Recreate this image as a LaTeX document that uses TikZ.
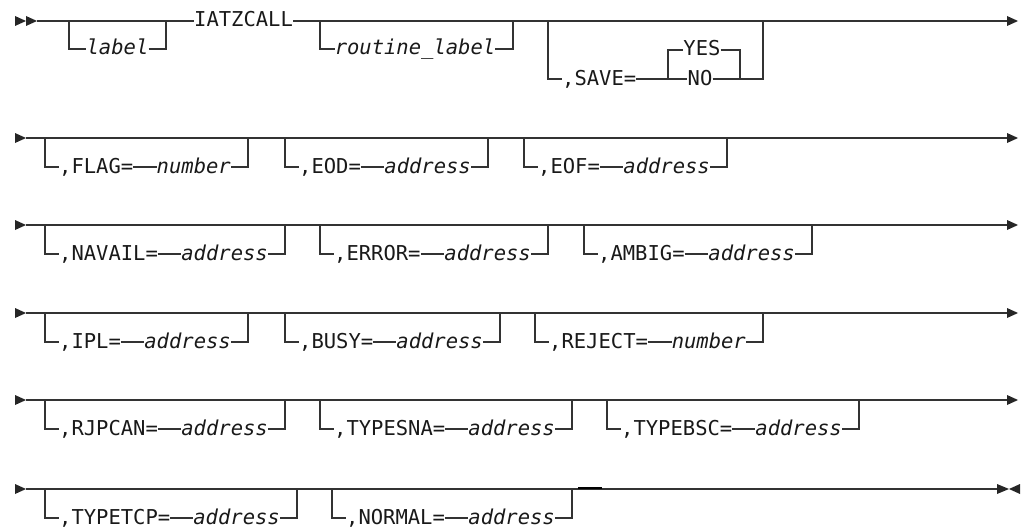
\documentclass[tikz,border=0pt]{standalone}
\usepackage{fontspec}
\newfontfamily\dvm{DejaVu Sans Mono}
\newcommand\optbr[6]{%
  \coordinate (#1tl) at (#2,#4);
  \coordinate (#1tr) at (#3,#4);
  \coordinate (#1bl) at (#2,#4+29);
  \coordinate (#1br) at (#3,#4+29);
  \node[kw,anchor=west] (#1k) at (#2+14,#4+29) {#5};
  \node[var,anchor=east] (#1v) at (#3-17,#4+29) {#6};
  \draw[ln] (#1tl) -- (#1bl) -- (#1k.west);
  \draw[ln] (#1k.east) -- (#1v.west);
  \draw[ln] (#1v.east) -- (#1br) -- (#1tr);
}
\newcommand\rowstart[2]{%
  \fill[tip] (15,#2-5) -- (15,#2+5) -- (26,#2) -- cycle;
  \coordinate (#1s) at (26,#2);
}
\newcommand\rowend[2]{%
  \coordinate (#1e) at (1007,#2);
  \fill[tip] (1007,#2-5) -- (1007,#2+5) -- (1018,#2) -- cycle;
  \draw[ln] (#1s) -- (#1e);
}
\begin{document}
\begin{tikzpicture}[x=1pt,y=-1pt,
  ln/.style={line width=1.1pt, draw=black!80},
  tip/.style={fill=black!85},
  kw/.style={font=\dvm\fontsize{20.5}{20.5}\selectfont, inner sep=0pt, text height=14pt, text depth=2pt, text=black!90},
  var/.style={kw, font=\dvm\itshape\fontsize{20.5}{20.5}\selectfont}]
\useasboundingbox (0,0) rectangle (1023,527);

% ---------- row 1 ----------
\fill[tip] (15,16) -- (15,26) -- (26,21) -- cycle;
\fill[tip] (26,16) -- (26,26) -- (37,21) -- cycle;
\coordinate (r1s) at (37,21);
\node[kw,anchor=west] (iatz) at (194,21) {IATZCALL};
\coordinate (r1e) at (1007,21);
\fill[tip] (1007,16) -- (1007,26) -- (1018,21) -- cycle;
\draw[ln] (r1s) -- (iatz.west);
\draw[ln] (iatz.east) -- (r1e);
% label
\coordinate (la1) at (69,21); \coordinate (la2) at (69,49);
\coordinate (la3) at (166,49); \coordinate (la4) at (166,21);
\node[var] (lab) at (117.5,49) {label};
\draw[ln] (la1) -- (la2) -- (lab.west);
\draw[ln] (lab.east) -- (la3) -- (la4);
% routine_label
\coordinate (ro1) at (320,21); \coordinate (ro2) at (320,49);
\coordinate (ro3) at (513,49); \coordinate (ro4) at (513,21);
\node[var] (rout) at (415,49) {routine\_label};
\draw[ln] (ro1) -- (ro2) -- (rout.west);
\draw[ln] (rout.east) -- (ro3) -- (ro4);
% SAVE
\coordinate (sv1) at (548,21); \coordinate (sv2) at (548,79);
\node[kw,anchor=west] (save) at (562,79) {,SAVE=};
\coordinate (fk1) at (668,79); \coordinate (fk2) at (668,50);
\coordinate (fk3) at (740,50); \coordinate (fk4) at (740,79);
\node[kw] (yes) at (702,50) {YES};
\node[kw] (no) at (700,79) {NO};
\coordinate (sv3) at (763,79); \coordinate (sv4) at (763,21);
\draw[ln] (sv1) -- (sv2) -- (save.west);
\draw[ln] (save.east) -- (fk1) -- (no.west);
\draw[ln] (fk1) -- (fk2) -- (yes.west);
\draw[ln] (yes.east) -- (fk3) -- (fk4);
\draw[ln] (no.east) -- (fk4) -- (sv3) -- (sv4);

% ---------- row 2 ----------
\rowstart{r2}{138}
\rowend{r2}{138}
\optbr{flag}{45}{248}{138}{,FLAG=}{number}
\optbr{eod}{285}{488}{138}{,EOD=}{address}
\optbr{eof}{524}{727}{138}{,EOF=}{address}

% ---------- row 3 ----------
\rowstart{r3}{225}
\rowend{r3}{225}
\optbr{nav}{45}{285}{225}{,NAVAIL=}{address}
\optbr{err}{320}{548}{225}{,ERROR=}{address}
\optbr{amb}{584}{812}{225}{,AMBIG=}{address}

% ---------- row 4 ----------
\rowstart{r4}{313}
\rowend{r4}{313}
\optbr{ipl}{45}{248}{313}{,IPL=}{address}
\optbr{bsy}{285}{500}{313}{,BUSY=}{address}
\optbr{rej}{535}{763}{313}{,REJECT=}{number}

% ---------- row 5 ----------
\rowstart{r5}{400}
\rowend{r5}{400}
\optbr{rjp}{45}{285}{400}{,RJPCAN=}{address}
\optbr{sna}{320}{572}{400}{,TYPESNA=}{address}
\optbr{bsc}{607}{859}{400}{,TYPEBSC=}{address}

% ---------- row 6 ----------
\rowstart{r6}{489}
\coordinate (r6e) at (997,489);
\draw[ln] (r6s) -- (r6e);
\fill[tip] (997,484) -- (997,494) -- (1009,489) -- cycle;
\fill[tip] (1020,484) -- (1020,494) -- (1009,489) -- cycle;
\optbr{tcp}{45}{297}{489}{,TYPETCP=}{address}
\optbr{nor}{332}{572}{489}{,NORMAL=}{address}
\coordinate (mk1) at (578,488); \coordinate (mk2) at (602,488);
\draw[line width=2pt, draw=black] (mk1) -- (mk2);
\end{tikzpicture}
\end{document}
